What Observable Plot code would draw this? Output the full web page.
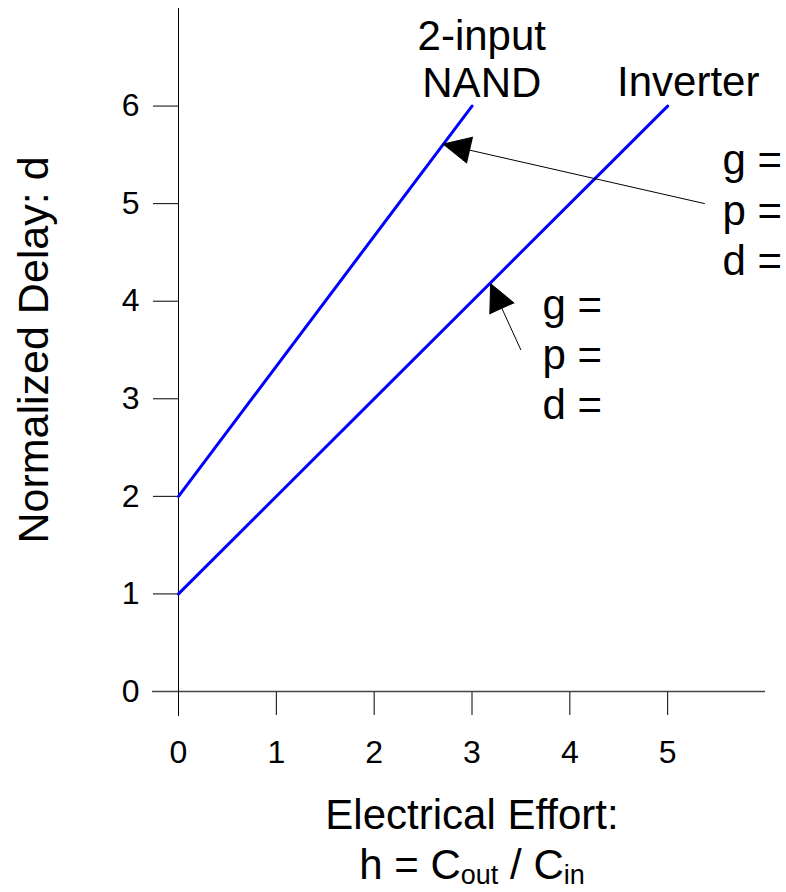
<!DOCTYPE html>
<html>
<head>
<meta charset="utf-8">
<script src="https://cdn.jsdelivr.net/npm/d3@7"></script>
<script src="https://cdn.jsdelivr.net/npm/@observablehq/plot@0.6"></script>
<style>
  html, body { margin: 0; padding: 0; background: white; }
  #chart svg { display: block; }
  #xtitle {
    width: 786px; font-family: "Liberation Sans", Arial, sans-serif; font-size: 42px;
    line-height: 50px; color: black; position: relative; height: 102px;
  }
  #xtitle div { position: absolute; transform: translateX(-50%); white-space: nowrap; }
  #xtitle sub { font-size: 27px; line-height: 0; vertical-align: -5px; }
</style>
</head>
<body>
<div id="chart"></div>
<div id="xtitle"></div>
<script>
// ---- data ----
const nandH = [0, 3];
const nandD = [2, 6];
const invH = [0, 5];
const invD = [1, 6];
const xTicks = [0, 1, 2, 3, 4, 5];
const yTicks = [0, 1, 2, 3, 4, 5, 6];
const xDomain = [0, 6];
const yDomain = [0, 7];
const yTitle = "Normalized Delay: d";
const xTitle1 = "Electrical Effort:";
const nandLabel = "2-input\nNAND";
const invLabel = "Inverter";
const gpdLabel = "g =\np =\nd =";

const nand = nandH.map((h, i) => ({h, d: nandD[i]}));
const inv = invH.map((h, i) => ({h, d: invD[i]}));

// annotation anchors (data coordinates)
const arrowNand = [{x1: 5.38, y1: 5.0, x2: 2.705, y2: 5.61}];
// inverter arrow: tail pushed back along the shaft and inset, so the head can be full size
const arrowInv = [{x1: 3.81, y1: 2.82, x2: 3.19, y2: 4.18}];
const nandLab = [{x: 3.10, y: 6.488, t: nandLabel}];
const invLab = [{x: 5.21, y: 6.246, t: invLabel}];
const groups = [
  {x: 5.56, y: 4.95, t: gpdLabel},
  {x: 3.72, y: 3.47, t: gpdLabel}
];

const arrowStyle = {x1: "x1", y1: "y1", x2: "x2", y2: "y2", stroke: "black", fill: "black", strokeWidth: 1, headLength: 46, headAngle: 52, strokeLinecap: "butt"};

const plot = Plot.plot({
  width: 786,
  height: 790,
  marginLeft: 178,
  marginRight: 21,
  marginTop: 8,
  marginBottom: 99,
  x: {domain: xDomain},
  y: {domain: yDomain},
  style: {fontFamily: "Liberation Sans, Arial, sans-serif", fontSize: "32px", background: "white", color: "black"},
  marks: [
    Plot.axisX({ticks: xTicks, tickSize: 24, tickPadding: 25, fontSize: 32, label: null, tickFormat: d => String(d)}),
    Plot.axisY({ticks: yTicks, tickSize: 25, tickPadding: 14, fontSize: 32, label: null, tickFormat: d => String(d)}),
    Plot.ruleY([0], {insetLeft: -26, stroke: "#444", strokeWidth: 1.5}),
    Plot.ruleX([0], {insetBottom: -25, stroke: "black", strokeWidth: 1}),
    Plot.line(nand, {x: "h", y: "d", stroke: "#0000ff", strokeWidth: 3}),
    Plot.line(inv, {x: "h", y: "d", stroke: "#0000ff", strokeWidth: 3}),
    Plot.arrow(arrowNand, arrowStyle),
    Plot.arrow(arrowInv, {...arrowStyle, insetStart: 73}),
    Plot.text(nandLab, {x: "x", y: "y", text: "t", fontSize: 42, lineHeight: 1.12, textAnchor: "middle", lineAnchor: "middle"}),
    Plot.text(invLab, {x: "x", y: "y", text: "t", fontSize: 42, textAnchor: "middle", lineAnchor: "middle"}),
    Plot.text(groups, {x: "x", y: "y", text: "t", fontSize: 42, lineHeight: 1.2, textAnchor: "start", lineAnchor: "middle"}),
    Plot.text([yTitle], {frameAnchor: "left", dx: -144, rotate: -90, fontSize: 43, textAnchor: "middle", lineAnchor: "middle"})
  ]
});
document.getElementById("chart").appendChild(plot);

// x-axis title (two lines, with subscripts) below the SVG
const xt = document.getElementById("xtitle");
const cx = 472;
const l1 = document.createElement("div");
l1.style.left = cx + "px"; l1.style.top = "0px";
l1.textContent = xTitle1;
const l2 = document.createElement("div");
l2.style.left = cx + "px"; l2.style.top = "50px";
l2.innerHTML = "h = C<sub>out</sub> / C<sub>in</sub>";
xt.appendChild(l1); xt.appendChild(l2);
</script>
</body>
</html>
